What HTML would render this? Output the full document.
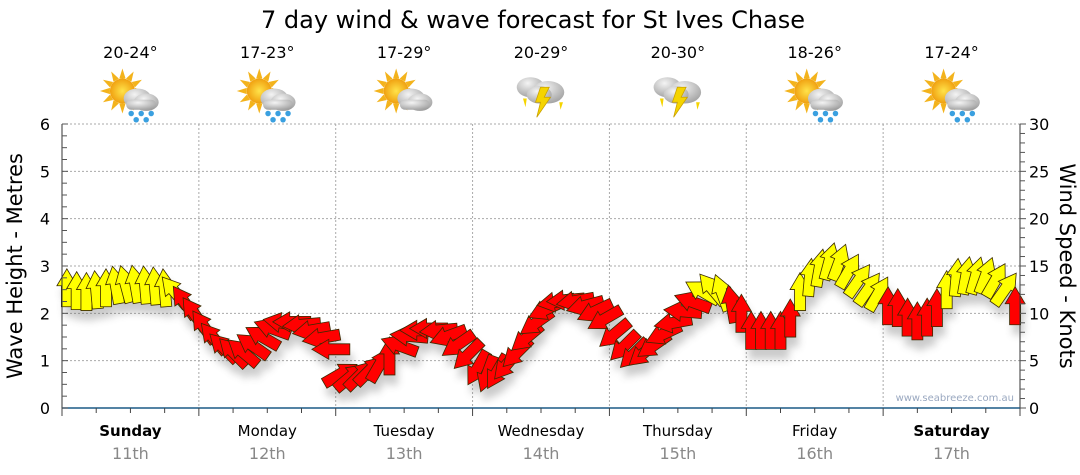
<!DOCTYPE html>
<html><head><meta charset="utf-8"><style>
html,body{margin:0;padding:0;background:#fff;width:1080px;height:475px;overflow:hidden}
svg text{font-family:"DejaVu Sans","Liberation Sans",sans-serif}
</style></head><body>
<svg id="chart" width="1080" height="475" viewBox="0 0 1080 475" xmlns="http://www.w3.org/2000/svg">
<defs>
<filter id="sh" x="-50%" y="-50%" width="200%" height="200%"><feGaussianBlur stdDeviation="4"/></filter>
<radialGradient id="cl" cx="0.4" cy="0.3" r="0.8"><stop offset="0" stop-color="#f4f4f4"/><stop offset="1" stop-color="#9a9a9a"/></radialGradient>
<radialGradient id="sun" cx="0.5" cy="0.5" r="0.5"><stop offset="0" stop-color="#ffe34a"/><stop offset="1" stop-color="#f0a010"/></radialGradient>
</defs>
<text x="533" y="28" font-size="24" text-anchor="middle" fill="#000">7 day wind &amp; wave forecast for St Ives Chase</text>
<g id="grid"></g>
<g id="shadows" filter="url(#sh)" opacity="0.3"></g>
<g id="arrows"></g>
<g id="axes"></g>
<g id="icons"></g>
<text transform="translate(22,266) rotate(-90)" font-size="21" text-anchor="middle">Wave Height - Metres</text>
<text transform="translate(1060,266) rotate(90)" font-size="21" text-anchor="middle">Wind Speed - Knots</text>
<text x="1014" y="401" font-size="10" text-anchor="end" fill="#9aa8c0">www.seabreeze.com.au</text>
</svg>
<script>
const dayNames=["Sunday","Monday","Tuesday","Wednesday","Thursday","Friday","Saturday"];
const dayDates=["11th","12th","13th","14th","15th","16th","17th"];
const temps=["20-24°","17-23°","17-29°","20-29°","20-30°","18-26°","17-24°"];
const iconTypes=["rain","rain","sun","storm","storm","rain","rain"];
const leftTicks=[0,1,2,3,4,5,6];
const rightTicks=[0,5,10,15,20,25,30];
const windSpeed=[
12.7,12.4,12.3,12.5,12.7,13.0,13.1,13.1,13.0,12.9,12.7,12.3,11.2,10.0,
8.6,7.4,6.4,5.9,5.9,6.6,7.5,8.4,9.0,9.1,8.8,8.2,7.4,6.2,
3.6,3.3,3.5,4.0,4.6,5.5,6.6,7.6,8.2,8.4,8.2,7.6,6.7,5.6,
4.2,3.6,3.8,4.6,5.8,7.4,9.0,10.4,11.2,11.4,11.3,10.8,10.2,9.4,
7.8,6.5,5.7,5.8,6.6,7.8,9.0,10.2,11.2,12.3,12.6,12.2,11.0,10.0,
8.2,8.2,8.2,8.2,9.5,12.3,13.8,14.8,15.5,15.4,14.5,13.5,12.6,12.1,
10.8,10.6,9.6,9.2,9.6,10.6,12.5,13.8,14.0,14.0,14.0,13.5,12.6,10.8];
const windDir=[
0,0,0,-5,0,-10,-15,-10,-5,-5,-5,-40,-35,-35,
-35,-40,-45,-45,-50,-55,-60,-70,-80,-90,-95,-100,-100,-90,
60,50,45,45,30,0,-70,-85,-90,-90,-95,-110,-125,-135,
-150,-160,-150,-140,-135,-130,-125,-115,-100,-95,-100,-105,-115,-120,
-130,-135,-135,-130,-125,-115,-100,-85,-70,-60,-40,-20,-10,0,
0,0,0,0,0,0,5,10,15,20,30,35,35,30,
0,0,0,0,0,0,0,5,10,15,20,30,35,0];
const NS="http://www.w3.org/2000/svg";
const X0=62,X1=1020,Y0=408,Y1=124;
const xDay=d=>X0+d*(X1-X0)/7;
const yM=m=>Y0-m*(Y0-Y1)/6;
const yK=k=>Y0-k*(Y0-Y1)/30;
function mk(tag,attrs,parent){const e=document.createElementNS(NS,tag);for(const k in attrs)e.setAttribute(k,attrs[k]);parent.appendChild(e);return e;}
const grid=document.getElementById('grid'),axes=document.getElementById('axes'),arrows=document.getElementById('arrows'),shadows=document.getElementById('shadows'),icons=document.getElementById('icons');
leftTicks.forEach(v=>{if(v>0){const l=mk('line',{x1:X0,x2:X1,y1:yM(v),y2:yM(v),stroke:'#aaa','stroke-dasharray':'2,2'},grid);

}});
for(let d=1;d<7;d++){const l=mk('line',{x1:xDay(d),x2:xDay(d),y1:Y1,y2:Y0,stroke:'#aaa','stroke-dasharray':'2,2'},grid);

}
mk('line',{x1:X0,x2:X0,y1:Y1,y2:Y0,stroke:'#333'},axes);
mk('line',{x1:X1,x2:X1,y1:Y1,y2:Y0,stroke:'#333'},axes);
const xa=mk('line',{x1:X0,x2:X1,y1:Y0,y2:Y0,stroke:'#1c5a85','stroke-width':1.5},axes);


for(let i=0;i<=24;i++){const v=i*0.25;mk('line',{x1:X0,x2:X0+(i%4==0?6:5),y1:yM(v),y2:yM(v),stroke:'#555'},axes);}
for(let i=0;i<=30;i++){mk('line',{x1:X1,x2:X1+(i%5==0?6:5),y1:yK(i),y2:yK(i),stroke:'#555'},axes);}
for(let i=0;i<=28;i++){const x=X0+i*(X1-X0)/28;mk('line',{x1:x,x2:x,y1:Y0,y2:Y0+(i%4==0?8:5),stroke:'#444'},axes);}
leftTicks.forEach(v=>{const t=mk('text',{x:50,y:yM(v)+6,'font-size':16,'text-anchor':'end',fill:'#000'},axes);t.textContent=v;

});
rightTicks.forEach(v=>{const t=mk('text',{x:1029,y:yK(v)+6,'font-size':16,'text-anchor':'start',fill:'#000'},axes);t.textContent=v;

});
dayNames.forEach((n,d)=>{const cx=xDay(d+0.5);
const t=mk('text',{x:cx,y:436,'font-size':15,'text-anchor':'middle',fill:'#000','font-weight':(d==0||d==6)?'bold':'normal'},axes);t.textContent=n;


const t2=mk('text',{x:cx,y:459,'font-size':16,'text-anchor':'middle',fill:'#888'},axes);t2.textContent=dayDates[d];


const t3=mk('text',{x:cx,y:58,'font-size':16,'text-anchor':'middle',fill:'#000'},icons);t3.textContent=temps[d];


const g=mk('g',{transform:`translate(${cx+2},96) scale(1.25)`},icons);


const ty=iconTypes[d];
if(ty!=='storm'){for(let a=0;a<12;a++){const r=a*30*Math.PI/180;mk('polygon',{points:`${-8+Math.cos(r)*10-Math.sin(r)*2.5},${-4+Math.sin(r)*10+Math.cos(r)*2.5} ${-8+Math.cos(r)*10+Math.sin(r)*2.5},${-4+Math.sin(r)*10-Math.cos(r)*2.5} ${-8+Math.cos(r)*18},${-4+Math.sin(r)*18}`,fill:'#f3b31c'},g);}
mk('circle',{cx:-8,cy:-4,r:10,fill:'url(#sun)'},g);
mk('ellipse',{cx:4,cy:2,rx:11,ry:8,fill:'url(#cl)'},g);mk('ellipse',{cx:11,cy:5,rx:10,ry:7,fill:'url(#cl)'},g);mk('rect',{x:-5,y:3,width:24,height:8,rx:4,fill:'url(#cl)'},g);
if(ty==='rain'){[[-1,14],[7,14],[15,14],[3,19],[11,19]].forEach(p=>mk('circle',{cx:p[0],cy:p[1],r:2.2,fill:'#3aa0e0'},g));}}
else{mk('ellipse',{cx:-10,cy:-7,rx:11,ry:8,fill:'url(#cl)'},g);mk('ellipse',{cx:4,cy:-3,rx:13,ry:9,fill:'url(#cl)'},g);mk('ellipse',{cx:-3,cy:-1,rx:10,ry:7,fill:'url(#cl)'},g);
mk('polygon',{points:'-2,-7 5,-7 1,1 6,1 -5,17 -2,5 -6,5',fill:'#f5d400',stroke:'#c9a000','stroke-width':0.6},g);
mk('polygon',{points:'-16,2 -13,2 -14,9',fill:'#f5d400'},g);mk('polygon',{points:'13,5 16,5 14,11',fill:'#f5d400'},g);}
});
const N=windSpeed.length;
const shape='0,-19 10,-2 5.5,-2 5.5,19 -5.5,19 -5.5,-2 -10,-2';
for(let i=0;i<N;i++){const x=X0+(i+0.5)*(X1-X0)/N,y=yK(windSpeed[i]);
mk('polygon',{points:shape,fill:'#555',transform:`translate(${x+3},${y+10}) rotate(${windDir[i]})`},shadows);
const a=mk('polygon',{points:shape,fill:windSpeed[i]>=12?'#ffff00':'#ff0000',stroke:'#3a2a00','stroke-width':0.8,transform:`translate(${x},${y}) rotate(${windDir[i]})`},arrows);

}
</script>
</body></html>
